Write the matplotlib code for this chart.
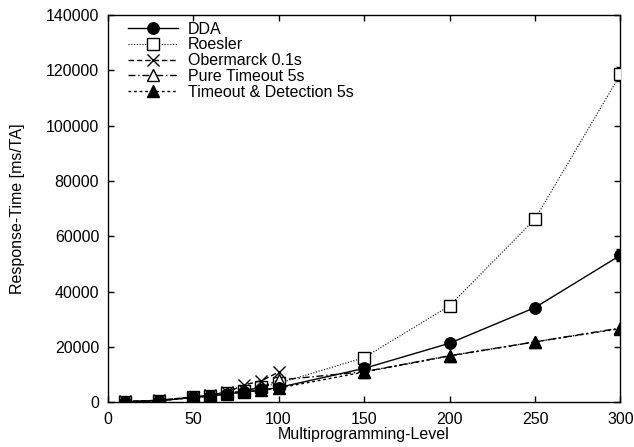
import matplotlib
matplotlib.use("Agg")
import matplotlib.pyplot as plt

plt.rcParams['font.family'] = ['Liberation Sans', 'DejaVu Sans']

mpl_levels = [10, 30, 50, 60, 70, 80, 90, 100, 150, 200, 250, 300]
obermarck_levels = [10, 30, 50, 60, 70, 80, 90, 100]

dda = [300, 600, 1800, 2300, 3100, 3800, 4500, 5400, 12300, 21400, 34300, 53200]
dda_err = [0, 0, 0, 0, 0, 0, 0, 0, 0, 0, 0, 2200]
roesler = [300, 700, 1900, 2400, 3300, 4300, 5700, 6900, 16200, 34900, 66300, 118600]
roesler_err = [0, 0, 0, 0, 0, 0, 0, 0, 0, 0, 0, 2500]
obermarck = [400, 800, 2000, 2700, 3800, 6300, 7900, 10900]
pure_timeout = [300, 700, 1900, 2400, 3300, 4200, 5500, 8100, 11100, 16900, 21900, 26900]
timeout_detect = [300, 600, 1800, 2300, 3100, 3800, 4400, 5200, 11000, 16800, 21900, 26700]

x_ticks = [0, 50, 100, 150, 200, 250, 300]
y_ticks = [0, 20000, 40000, 60000, 80000, 100000, 120000, 140000]

fig = plt.figure(figsize=(6.34, 4.47), dpi=100)
ax = fig.add_axes([0.1696, 0.0996, 0.8091, 0.8668])

lw = 1.0
handles = []
h, = ax.plot(mpl_levels, dda, color='black', linestyle='-', linewidth=lw,
             marker='o', markersize=8.2, markerfacecolor='black', label='DDA', zorder=5)
handles.append(h)
ax.errorbar(mpl_levels, dda, yerr=dda_err, fmt='none', ecolor='black', capsize=3,
            elinewidth=0.8, zorder=4)
h, = ax.plot(mpl_levels, roesler, color='black', linestyle=(0, (1, 1.5)), linewidth=0.8,
             marker='s', markersize=8.5, markerfacecolor='white', markeredgewidth=1.0,
             label='Roesler', zorder=3)
handles.append(h)
ax.errorbar(mpl_levels, roesler, yerr=roesler_err, fmt='none', ecolor='black', capsize=3,
            elinewidth=0.6, zorder=2)
h, = ax.plot(obermarck_levels, obermarck, color='black', linestyle=(0, (4, 2)), linewidth=lw,
             marker='x', markersize=9, markeredgewidth=1.0, label='Obermarck 0.1s', zorder=3)
handles.append(h)
h, = ax.plot(mpl_levels, pure_timeout, color='black', linestyle=(0, (5, 2, 1, 2)), linewidth=lw,
             marker='^', markersize=8.5, markerfacecolor='white', markeredgewidth=1.0,
             label='Pure Timeout 5s', zorder=3)
handles.append(h)
h, = ax.plot(mpl_levels, timeout_detect, color='black', linestyle=(0, (2, 2)), linewidth=lw,
             marker='^', markersize=8.5, markerfacecolor='black',
             label='Timeout & Detection 5s', zorder=4)
handles.append(h)

ax.set_xlim(0, 300)
ax.set_ylim(0, 140000)
ax.set_xticks(x_ticks)
ax.set_yticks(y_ticks)
ax.tick_params(direction='in', top=True, right=True, length=4, width=1, labelsize=11.5)
ax.tick_params(axis='x', pad=6.5)
ax.tick_params(axis='y', pad=6)
for s in ax.spines.values():
    s.set_linewidth(1.0)

ax.set_xlabel('Multiprogramming-Level', fontsize=11.5, labelpad=0.5)
ax.set_ylabel('Response-Time [ms/TA]', fontsize=11.5, labelpad=15)

ax.legend(handles=handles, loc='upper left', frameon=False, fontsize=11.5, handlelength=3.13,
          handletextpad=0.63, labelspacing=0.05, borderaxespad=0, borderpad=0,
          bbox_to_anchor=(0.040, 0.983))

fig.savefig('out.png', dpi=100)
